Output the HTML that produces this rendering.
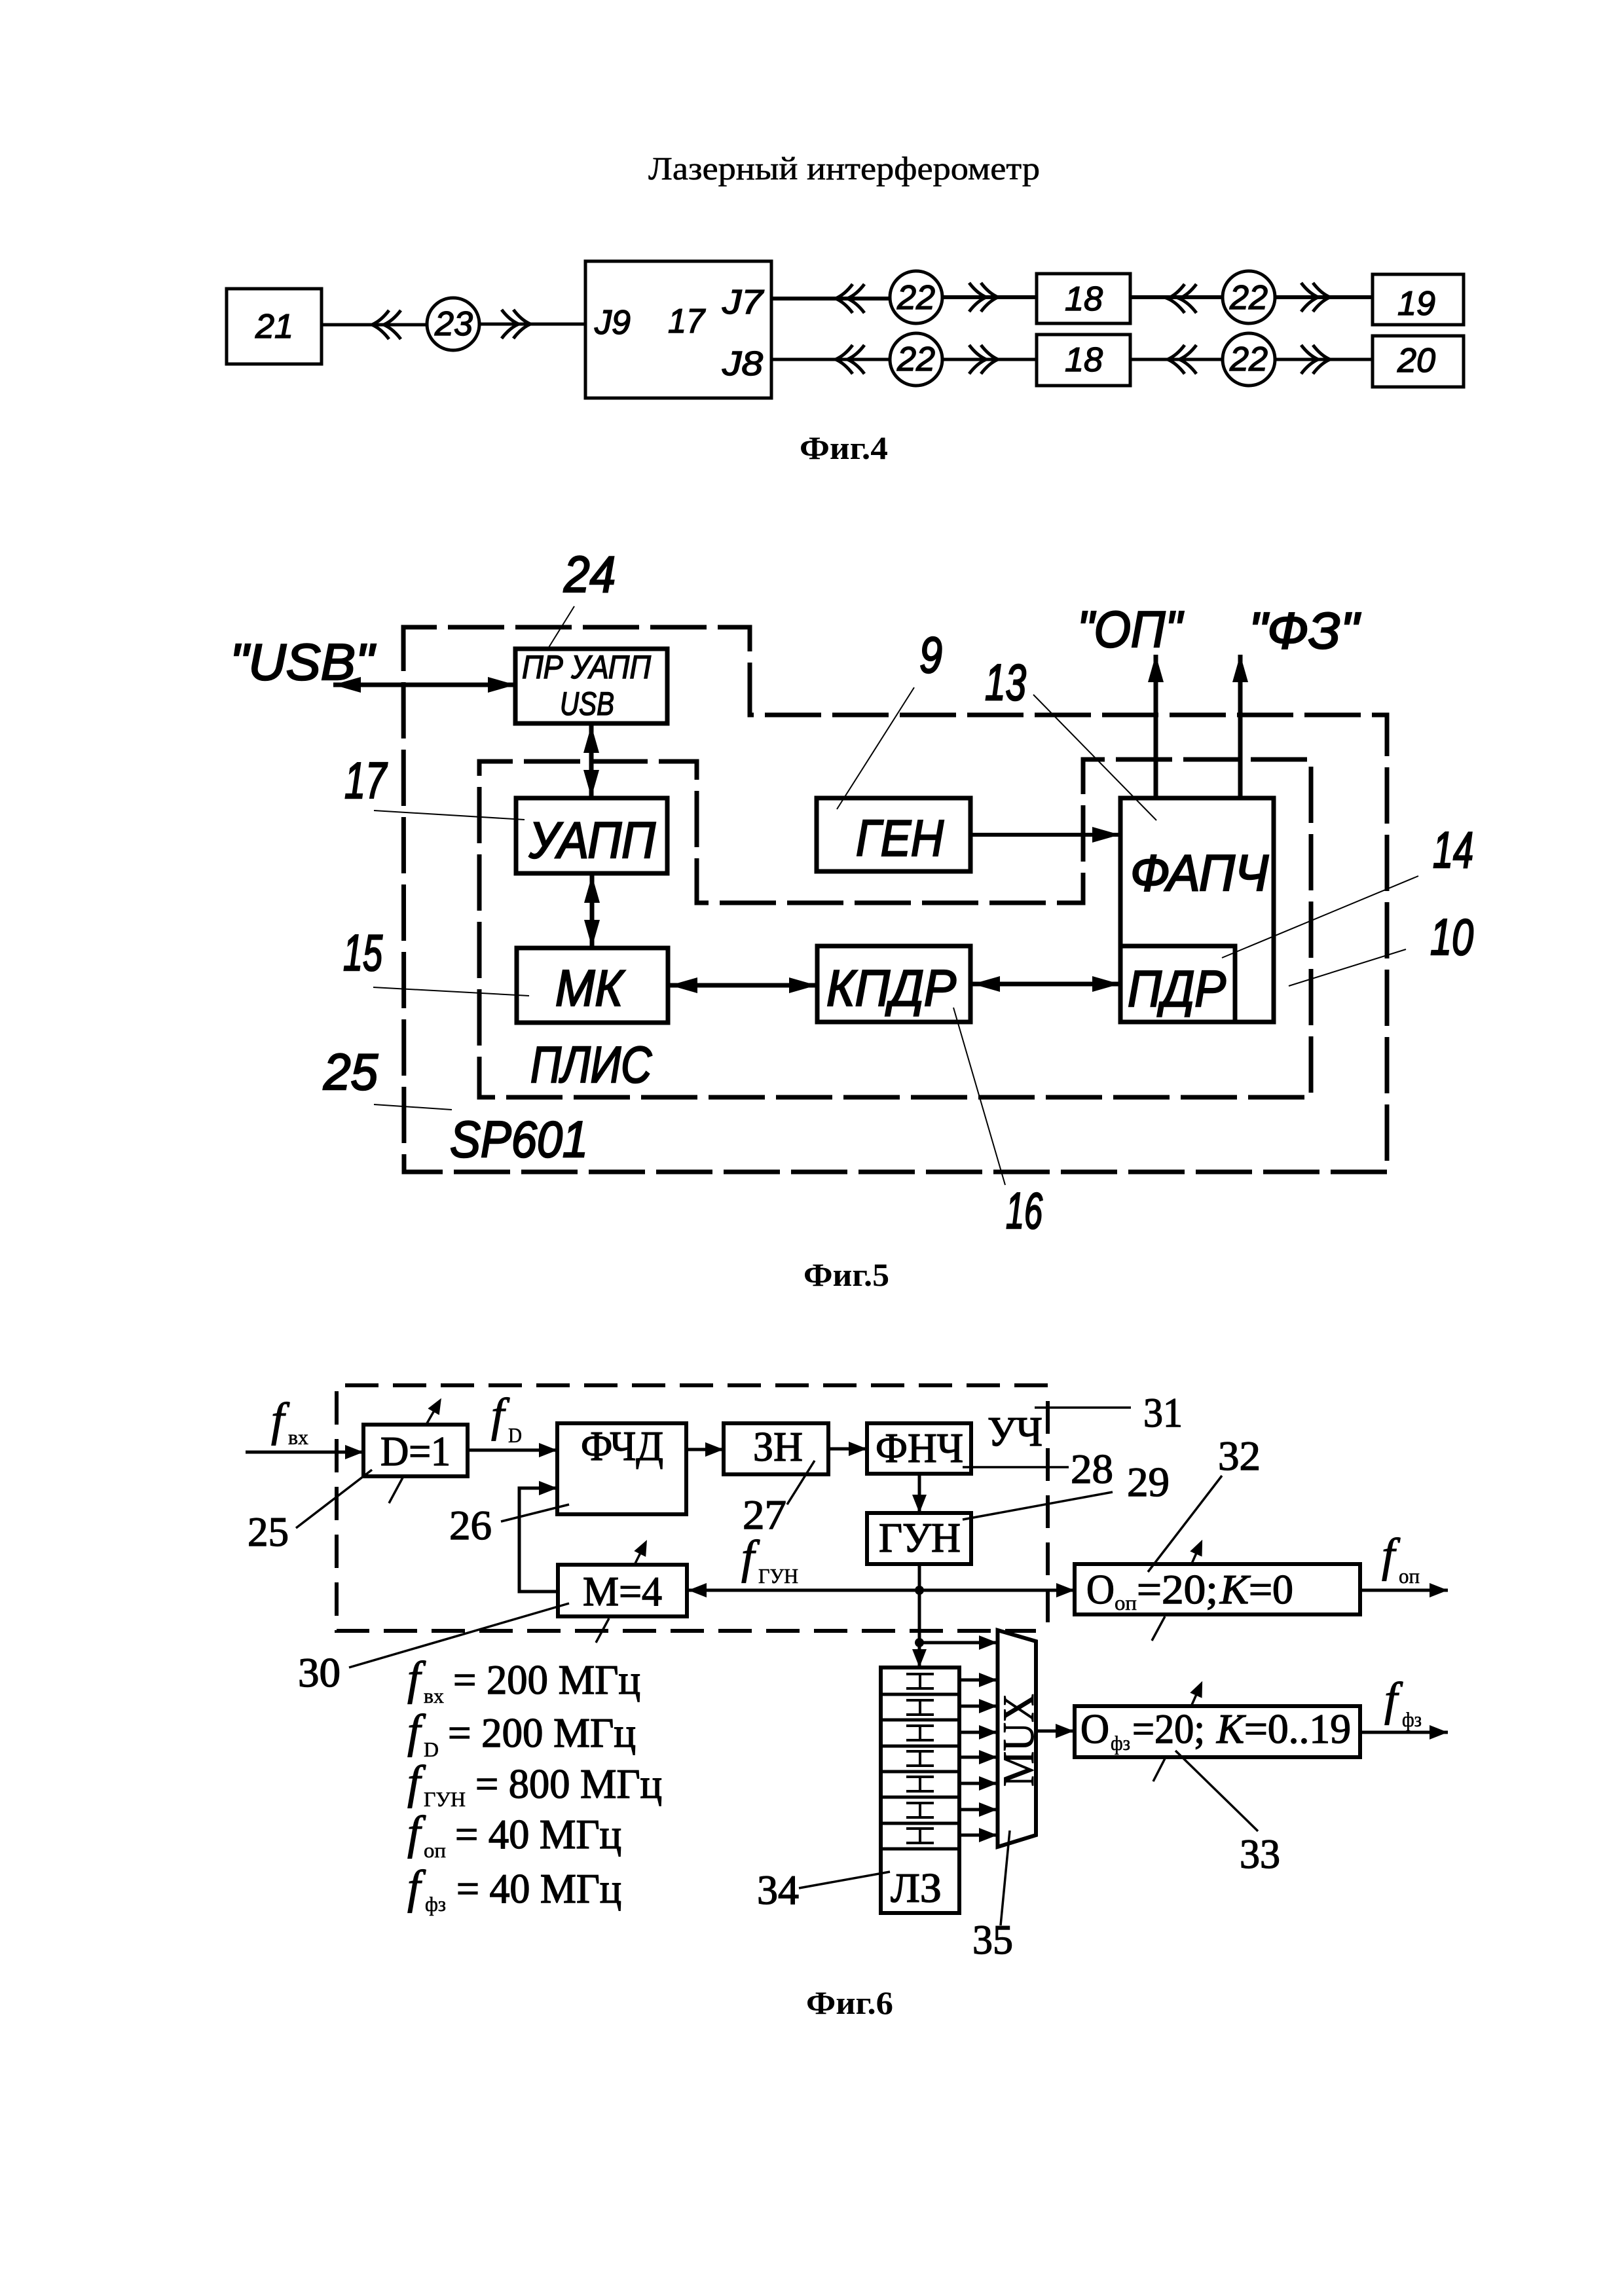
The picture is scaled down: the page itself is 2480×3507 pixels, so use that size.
<!DOCTYPE html>
<html lang="ru"><head><meta charset="utf-8"><title>Лазерный интерферометр</title>
<style>
html,body{margin:0;padding:0;background:#fff}
svg{display:block}
.s{font-family:"Liberation Serif",serif;fill:#000;stroke:#000;stroke-width:1}
.g{font-family:"Liberation Sans",sans-serif;font-style:italic;fill:#000;stroke:#000;stroke-width:1.5}
.f{font-family:"Liberation Serif",serif;font-style:italic;fill:#000;font-size:72px;stroke:#000;stroke-width:1.2}
.cap{stroke:none}
</style></head><body>
<svg xmlns="http://www.w3.org/2000/svg" width="2480" height="3507" viewBox="0 0 2480 3507">
<defs>
<marker id="a" markerUnits="userSpaceOnUse" markerWidth="44" markerHeight="30" refX="42" refY="15" orient="auto-start-reverse"><path d="M0 3L42 15L0 27Z" fill="#000"/></marker>
<marker id="b" markerUnits="userSpaceOnUse" markerWidth="30" markerHeight="26" refX="28" refY="13" orient="auto-start-reverse"><path d="M0 2L28 13L0 24Z" fill="#000"/></marker>
<marker id="c" markerUnits="userSpaceOnUse" markerWidth="24" markerHeight="26" refX="4" refY="13" orient="auto"><path d="M0 3L24 13L0 23Z" fill="#000"/></marker>
<g id="ll" fill="none" stroke="#000" stroke-width="5"><path d="M26 -22Q14 -6 0 0Q14 6 26 22"/><path d="M44 -22Q32 -6 18 0Q32 6 44 22"/></g>
<g id="rr" fill="none" stroke="#000" stroke-width="5"><path d="M-26 -22Q-14 -6 0 0Q-14 6 -26 22"/><path d="M-44 -22Q-32 -6 -18 0Q-32 6 -44 22"/></g>
<g id="ib" fill="none" stroke="#000" stroke-width="4"><path d="M-21 -11H21M-21 11H21M0 -11V11"/></g>
</defs>
<rect width="2480" height="3507" fill="#fff"/>

<!-- Fig 4 -->
<text class="s" x="990" y="274" font-size="50" textLength="598" lengthAdjust="spacingAndGlyphs" style="stroke-width:.6">Лазерный интерферометр</text>
<g fill="#fff" stroke="#000" stroke-width="5">
<rect x="346" y="441" width="145" height="115"/>
<rect x="894" y="399" width="284" height="209"/>
<rect x="1583" y="418" width="143" height="76"/>
<rect x="1583" y="511" width="143" height="78"/>
<rect x="2096" y="419" width="139" height="77"/>
<rect x="2096" y="513" width="139" height="78"/>
</g>
<g stroke="#000" fill="none">
<path d="M491 496H650M733 495H893" stroke-width="5"/>
<path d="M1178 456H1358M1440 454H1583M1726 454H1866M1948 454H2095" stroke-width="6"/>
<path d="M1178 549H1358M1440 549H1583M1726 549H1866M1948 549H2095" stroke-width="5"/>
</g>
<g fill="#fff" stroke="#000" stroke-width="5">
<circle cx="692" cy="495" r="40"/>
<circle cx="1399" cy="454" r="40"/><circle cx="1907" cy="454" r="40"/>
<circle cx="1399" cy="549" r="40"/><circle cx="1907" cy="549" r="40"/>
</g>
<use href="#ll" x="568" y="496"/><use href="#rr" x="810" y="495"/>
<use href="#ll" x="1276" y="456"/><use href="#rr" x="1524" y="454"/>
<use href="#ll" x="1783" y="456"/><use href="#rr" x="2031" y="454"/>
<use href="#ll" x="1276" y="549"/><use href="#rr" x="1524" y="549"/>
<use href="#ll" x="1783" y="549"/><use href="#rr" x="2031" y="549"/>
<g class="g" font-size="52">
<text x="390" y="516" textLength="58" lengthAdjust="spacingAndGlyphs">21</text>
<text x="664" y="512" textLength="58" lengthAdjust="spacingAndGlyphs">23</text>
<text x="908" y="510" textLength="55" lengthAdjust="spacingAndGlyphs">J9</text>
<text x="1020" y="508" textLength="56" lengthAdjust="spacingAndGlyphs">17</text>
<text x="1103" y="479" textLength="62" lengthAdjust="spacingAndGlyphs">J7</text>
<text x="1103" y="573" textLength="62" lengthAdjust="spacingAndGlyphs">J8</text>
<text x="1626" y="474" textLength="58" lengthAdjust="spacingAndGlyphs">18</text>
<text x="1626" y="567" textLength="58" lengthAdjust="spacingAndGlyphs">18</text>
<text x="2134" y="481" textLength="58" lengthAdjust="spacingAndGlyphs">19</text>
<text x="2134" y="568" textLength="58" lengthAdjust="spacingAndGlyphs">20</text>
<text x="1370" y="472" textLength="58" lengthAdjust="spacingAndGlyphs">22</text>
<text x="1878" y="472" textLength="58" lengthAdjust="spacingAndGlyphs">22</text>
<text x="1370" y="566" textLength="58" lengthAdjust="spacingAndGlyphs">22</text>
<text x="1878" y="566" textLength="58" lengthAdjust="spacingAndGlyphs">22</text>
</g>
<text class="s cap" x="1221" y="701" font-size="50" textLength="135" lengthAdjust="spacingAndGlyphs" font-weight="bold">Фиг.4</text>

<!-- Fig 5 dashed -->
<g fill="none" stroke="#000" stroke-width="7" stroke-dasharray="86 17" stroke-dashoffset="35">
<path d="M616 958H1145V1092H2118V1790H617Z"/>
<path d="M732 1163H1064V1379H1654V1160H2002V1676H732Z"/>
</g>
<!-- Fig 5 boxes -->
<g fill="none" stroke="#000" stroke-width="7">
<rect x="787" y="991" width="232" height="114"/>
<rect x="788" y="1219" width="231" height="115"/>
<rect x="789" y="1448" width="231" height="114"/>
<rect x="1247" y="1219" width="235" height="112"/>
<rect x="1248" y="1445" width="234" height="116"/>
<rect x="1711" y="1219" width="234" height="342"/>
<path d="M1711 1445H1886V1561"/>
</g>
<g stroke="#000" stroke-width="7" fill="none">
<path d="M509 1046H787" marker-start="url(#a)" marker-end="url(#a)"/>
<path d="M903 1108V1218" marker-start="url(#a)" marker-end="url(#a)"/>
<path d="M904 1337V1447" marker-start="url(#a)" marker-end="url(#a)"/>
<path d="M1023 1505H1247" marker-start="url(#a)" marker-end="url(#a)"/>
<path d="M1485 1503H1710" marker-start="url(#a)" marker-end="url(#a)"/>
<path d="M1482 1275H1710" stroke-width="6" marker-end="url(#a)"/>
<path d="M1765 1218V1000" marker-end="url(#a)"/>
<path d="M1894 1218V1000" marker-end="url(#a)"/>
</g>
<g stroke="#000" stroke-width="2" fill="none">
<path d="M877 926L836 992M571 1238L801 1252M570 1508L808 1521M571 1687L690 1695"/>
<path d="M1396 1050L1278 1236M1578 1061L1766 1253M2166 1338L1866 1463M2147 1450L1968 1506M1456 1539L1535 1810"/>
</g>
<g class="g" font-size="78" style="stroke-width:2.5">
<text x="351" y="1038" textLength="220" lengthAdjust="spacingAndGlyphs">"USB"</text>
<text x="861" y="904" textLength="79" lengthAdjust="spacingAndGlyphs">24</text>
<text x="526" y="1219" textLength="64" lengthAdjust="spacingAndGlyphs">17</text>
<text x="524" y="1482" textLength="60" lengthAdjust="spacingAndGlyphs">15</text>
<text x="494" y="1664" textLength="83" lengthAdjust="spacingAndGlyphs">25</text>
<text x="808" y="1310" textLength="193" lengthAdjust="spacingAndGlyphs">УАПП</text>
<text x="848" y="1536" textLength="103" lengthAdjust="spacingAndGlyphs">МК</text>
<text x="810" y="1653" textLength="185" lengthAdjust="spacingAndGlyphs">ПЛИС</text>
<text x="687" y="1767" textLength="211" lengthAdjust="spacingAndGlyphs">SP601</text>
<text x="1307" y="1307" textLength="134" lengthAdjust="spacingAndGlyphs">ГЕН</text>
<text x="1262" y="1536" textLength="198" lengthAdjust="spacingAndGlyphs">КПДР</text>
<text x="1726" y="1360" textLength="211" lengthAdjust="spacingAndGlyphs">ФАПЧ</text>
<text x="1722" y="1537" textLength="150" lengthAdjust="spacingAndGlyphs">ПДР</text>
<text x="1645" y="988" textLength="160" lengthAdjust="spacingAndGlyphs">"ОП"</text>
<text x="1907" y="990" textLength="168" lengthAdjust="spacingAndGlyphs">"ФЗ"</text>
<text x="1404" y="1027" textLength="35" lengthAdjust="spacingAndGlyphs">9</text>
<text x="1504" y="1069" textLength="63" lengthAdjust="spacingAndGlyphs">13</text>
<text x="1536" y="1876" textLength="56" lengthAdjust="spacingAndGlyphs">16</text>
<text x="2188" y="1325" textLength="62" lengthAdjust="spacingAndGlyphs">14</text>
<text x="2184" y="1458" textLength="66" lengthAdjust="spacingAndGlyphs">10</text>
</g>
<g class="g" font-size="50">
<text x="797" y="1036" textLength="197" lengthAdjust="spacingAndGlyphs">ПР УАПП</text>
<text x="855" y="1092" textLength="83" lengthAdjust="spacingAndGlyphs">USB</text>
</g>
<text class="s cap" x="1227" y="1964" font-size="50" textLength="131" lengthAdjust="spacingAndGlyphs" font-weight="bold">Фиг.5</text>

<!-- Fig 6 dashed -->
<g fill="none" stroke="#000" stroke-width="6" stroke-dasharray="51 22">
<path d="M1600 2116H514V2491H1582"/>
<path d="M1600 2140V2482" stroke-dasharray="50 22"/>
</g>
<!-- Fig 6 boxes -->
<g fill="none" stroke="#000" stroke-width="6">
<rect x="555" y="2176" width="159" height="79"/>
<rect x="851" y="2174" width="197" height="139"/>
<rect x="1105" y="2174" width="160" height="78"/>
<rect x="1324" y="2174" width="159" height="77"/>
<rect x="1324" y="2311" width="159" height="78"/>
<rect x="852" y="2390" width="197" height="79"/>
<rect x="1641" y="2389" width="436" height="77"/>
<rect x="1641" y="2606" width="436" height="78"/>
<rect x="1345" y="2547" width="120" height="375"/>
<path d="M1345 2588H1465M1345 2627H1465M1345 2667H1465M1345 2706H1465M1345 2745H1465M1345 2785H1465M1345 2824H1465" stroke-width="5"/>
<path d="M1523.5 2490L1582 2507V2803L1523.5 2821Z"/>
</g>
<use href="#ib" x="1405" y="2568"/><use href="#ib" x="1405" y="2608"/><use href="#ib" x="1405" y="2647"/>
<use href="#ib" x="1405" y="2686"/><use href="#ib" x="1405" y="2725"/><use href="#ib" x="1405" y="2765"/><use href="#ib" x="1405" y="2804"/>
<g stroke="#000" stroke-width="5" fill="none">
<path d="M375 2218H555" marker-end="url(#b)"/>
<path d="M714 2215H851" marker-end="url(#b)"/>
<path d="M1048 2214H1105" marker-end="url(#b)"/>
<path d="M1265 2213H1324" marker-end="url(#b)"/>
<path d="M1404 2251V2311" marker-end="url(#b)"/>
<path d="M1404 2389V2547" marker-end="url(#b)"/>
<path d="M852 2431H793V2273H851" marker-end="url(#b)"/>
<path d="M1404 2429H1051" marker-end="url(#b)"/>
<path d="M1404 2429H1641" marker-end="url(#b)"/>
<path d="M1404 2509H1523" marker-end="url(#b)"/>
<path d="M1466 2566H1523" marker-end="url(#b)"/>
<path d="M1466 2606H1523" marker-end="url(#b)"/>
<path d="M1466 2646H1523" marker-end="url(#b)"/>
<path d="M1466 2684H1523" marker-end="url(#b)"/>
<path d="M1466 2724H1523" marker-end="url(#b)"/>
<path d="M1466 2764H1523" marker-end="url(#b)"/>
<path d="M1466 2803H1523" marker-end="url(#b)"/>
<path d="M1582 2644H1640" marker-end="url(#b)"/>
<path d="M2077 2429H2211" marker-end="url(#b)"/>
<path d="M2077 2646H2211" marker-end="url(#b)"/>
</g>
<circle cx="1404" cy="2429" r="7" fill="#000"/><circle cx="1404" cy="2509" r="7" fill="#000"/>
<g stroke="#000" stroke-width="3.5" fill="none">
<path d="M594 2296L615 2257M910 2509L930 2472M1759 2506L1779 2469M1761 2721L1779 2686"/>
<path d="M652 2174L664 2153" marker-end="url(#c)"/>
<path d="M970 2388L979 2370" marker-end="url(#c)"/>
<path d="M1820 2388L1828 2370" marker-end="url(#c)"/>
<path d="M1820 2604L1828 2586" marker-end="url(#c)"/>
<path d="M452 2334L568 2245M765 2324L869 2298M1202 2298L1244 2231M533 2547L869 2449M1580 2150H1727M1470 2241H1632M1470 2321L1699 2279M1753 2401L1866 2254M1795 2674L1921 2797M1220 2884L1359 2859M1542 2796L1528 2941"/>
</g>
<g class="s" font-size="64" style="stroke-width:1.4">
<text x="581" y="2238" textLength="107" lengthAdjust="spacingAndGlyphs">D=1</text>
<text x="887" y="2230" textLength="126" lengthAdjust="spacingAndGlyphs">ФЧД</text>
<text x="1150" y="2231" textLength="76" lengthAdjust="spacingAndGlyphs">ЗН</text>
<text x="1337" y="2233" textLength="134" lengthAdjust="spacingAndGlyphs">ФНЧ</text>
<text x="1508" y="2208" textLength="84" lengthAdjust="spacingAndGlyphs">УЧ</text>
<text x="1342" y="2370" textLength="125" lengthAdjust="spacingAndGlyphs">ГУН</text>
<text x="890" y="2452" textLength="121" lengthAdjust="spacingAndGlyphs">М=4</text>
<text x="1360" y="2905" textLength="78" lengthAdjust="spacingAndGlyphs">ЛЗ</text>
<text x="1659" y="2449" textLength="43" lengthAdjust="spacingAndGlyphs">О</text>
<text x="1736" y="2449" textLength="124" lengthAdjust="spacingAndGlyphs">=20;</text>
<text x="1863" y="2449" textLength="44" lengthAdjust="spacingAndGlyphs" font-style="italic">K</text>
<text x="1907" y="2449" textLength="68" lengthAdjust="spacingAndGlyphs">=0</text>
<text x="1650" y="2662" textLength="44" lengthAdjust="spacingAndGlyphs">О</text>
<text x="1729" y="2662" textLength="111" lengthAdjust="spacingAndGlyphs">=20;</text>
<text x="1858" y="2662" textLength="42" lengthAdjust="spacingAndGlyphs" font-style="italic">K</text>
<text x="1900" y="2662" textLength="163" lengthAdjust="spacingAndGlyphs">=0..19</text>
<text x="378" y="2361" textLength="63" lengthAdjust="spacingAndGlyphs">25</text>
<text x="686" y="2351" textLength="65" lengthAdjust="spacingAndGlyphs">26</text>
<text x="1134" y="2335" textLength="67" lengthAdjust="spacingAndGlyphs">27</text>
<text x="455" y="2576" textLength="65" lengthAdjust="spacingAndGlyphs">30</text>
<text x="1156" y="2908" textLength="64" lengthAdjust="spacingAndGlyphs">34</text>
<text x="1746" y="2179" textLength="60" lengthAdjust="spacingAndGlyphs">31</text>
<text x="1635" y="2265" textLength="65" lengthAdjust="spacingAndGlyphs">28</text>
<text x="1721" y="2285" textLength="65" lengthAdjust="spacingAndGlyphs">29</text>
<text x="1860" y="2245" textLength="65" lengthAdjust="spacingAndGlyphs">32</text>
<text x="1893" y="2853" textLength="62" lengthAdjust="spacingAndGlyphs">33</text>
<text x="1485" y="2984" textLength="62" lengthAdjust="spacingAndGlyphs">35</text>
<text x="692" y="2587" textLength="286" lengthAdjust="spacingAndGlyphs">= 200 МГц</text>
<text x="684" y="2668" textLength="287" lengthAdjust="spacingAndGlyphs">= 200 МГц</text>
<text x="726" y="2746" textLength="285" lengthAdjust="spacingAndGlyphs">= 800 МГц</text>
<text x="695" y="2823" textLength="254" lengthAdjust="spacingAndGlyphs">= 40 МГц</text>
<text x="697" y="2906" textLength="252" lengthAdjust="spacingAndGlyphs">= 40 МГц</text>
</g>
<text class="s" font-size="68" transform="translate(1578 2729) rotate(-90)" textLength="142" lengthAdjust="spacingAndGlyphs">MUX</text>
<g class="f">
<text x="414" y="2192">f</text>
<text x="750" y="2185">f</text>
<text x="1132" y="2402">f</text>
<text x="2110" y="2399">f</text>
<text x="2114" y="2619">f</text>
<text x="622" y="2587">f</text>
<text x="622" y="2668">f</text>
<text x="622" y="2746">f</text>
<text x="622" y="2823">f</text>
<text x="622" y="2906">f</text>
</g>
<g class="s" font-size="32" style="stroke-width:.6">
<text x="440" y="2206" textLength="31" lengthAdjust="spacingAndGlyphs">вх</text>
<text x="776" y="2203" textLength="21" lengthAdjust="spacingAndGlyphs">D</text>
<text x="1158" y="2418" textLength="61" lengthAdjust="spacingAndGlyphs">ГУН</text>
<text x="2136" y="2418" textLength="32" lengthAdjust="spacingAndGlyphs">оп</text>
<text x="2141" y="2637" textLength="30" lengthAdjust="spacingAndGlyphs">фз</text>
<text x="1702" y="2459" textLength="34" lengthAdjust="spacingAndGlyphs">оп</text>
<text x="1696" y="2673" textLength="30" lengthAdjust="spacingAndGlyphs">фз</text>
<text x="647" y="2601" textLength="31" lengthAdjust="spacingAndGlyphs">вх</text>
<text x="647" y="2683" textLength="23" lengthAdjust="spacingAndGlyphs">D</text>
<text x="647" y="2759" textLength="64" lengthAdjust="spacingAndGlyphs">ГУН</text>
<text x="647" y="2837" textLength="34" lengthAdjust="spacingAndGlyphs">оп</text>
<text x="649" y="2919" textLength="32" lengthAdjust="spacingAndGlyphs">фз</text>
</g>
<text class="s cap" x="1231" y="3076" font-size="50" textLength="133" lengthAdjust="spacingAndGlyphs" font-weight="bold">Фиг.6</text>
</svg>
</body></html>
